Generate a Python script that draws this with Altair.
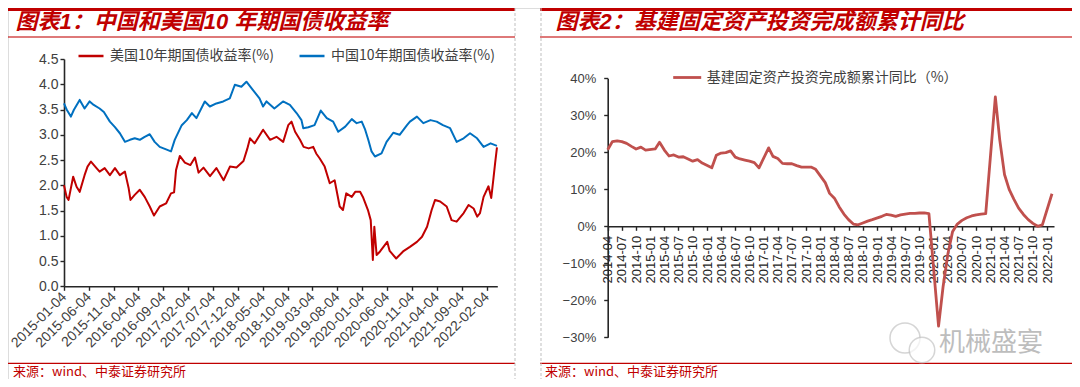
import altair as alt
import pandas as pd

# ---------------- data ----------------
US_NAME = "美国10年期国债收益率(%)"
CN_NAME = "中国10年期国债收益率(%)"
INFRA_NAME = "基建固定资产投资完成额累计同比（%）"

us_dates = ["2015-01-04", "2015-01-20", "2015-02-01", "2015-03-01", "2015-03-22", "2015-04-10",
            "2015-05-10", "2015-05-28", "2015-06-18", "2015-07-22", "2015-08-10", "2015-09-10",
            "2015-10-12", "2015-11-12", "2015-12-12", "2016-01-12", "2016-02-04", "2016-02-15",
            "2016-03-12", "2016-04-12", "2016-05-12", "2016-06-12", "2016-07-08", "2016-08-12",
            "2016-09-20", "2016-10-20", "2016-11-08", "2016-11-20", "2016-12-13", "2017-01-13",
            "2017-02-16", "2017-03-16", "2017-04-07", "2017-05-07", "2017-06-16", "2017-07-25",
            "2017-09-07", "2017-10-16", "2017-11-25", "2018-01-07", "2018-01-30", "2018-02-16",
            "2018-03-16", "2018-05-07", "2018-06-19", "2018-07-28", "2018-09-07", "2018-10-08",
            "2018-10-28", "2018-11-19", "2018-12-19", "2019-01-10", "2019-02-10", "2019-03-10",
            "2019-03-28", "2019-04-19", "2019-05-19", "2019-06-19", "2019-07-19", "2019-08-19",
            "2019-09-08", "2019-09-28", "2019-11-01", "2019-11-22", "2019-12-22", "2020-01-08",
            "2020-02-08", "2020-02-25", "2020-03-09", "2020-03-18", "2020-04-01", "2020-04-22",
            "2020-06-05", "2020-06-20", "2020-07-30", "2020-09-10", "2020-10-22", "2020-12-04",
            "2021-01-04", "2021-02-04", "2021-03-04", "2021-03-25", "2021-04-25", "2021-06-04",
            "2021-07-04", "2021-08-04", "2021-09-16", "2021-10-16", "2021-11-16", "2021-12-08",
            "2021-12-25", "2022-01-16", "2022-02-15", "2022-03-04", "2022-03-18", "2022-03-28",
            "2022-04-08"]
us_vals = [2.00, 1.77, 1.71, 2.17, 1.97, 1.87,
           2.20, 2.37, 2.47, 2.34, 2.27, 2.34,
           2.20, 2.34, 2.20, 2.27, 1.94, 1.71,
           1.81, 1.91, 1.77, 1.58, 1.40, 1.58,
           1.64, 1.84, 1.86, 2.30, 2.58, 2.45,
           2.40, 2.55, 2.25, 2.35, 2.18, 2.34,
           2.10, 2.37, 2.35, 2.48, 2.72, 2.93,
           2.83, 3.10, 2.90, 2.96, 2.86, 3.19,
           3.26, 3.06, 2.90, 2.76, 2.73, 2.76,
           2.63, 2.53, 2.37, 2.04, 2.10, 1.58,
           1.51, 1.84, 1.77, 1.87, 1.87, 1.77,
           1.51, 1.31, 0.52, 1.18, 0.62, 0.69,
           0.88, 0.70, 0.55, 0.69, 0.78, 0.88,
           0.98, 1.18, 1.51, 1.71, 1.68, 1.58,
           1.31, 1.28, 1.45, 1.61, 1.54, 1.38,
           1.45, 1.77, 1.98, 1.75, 2.15, 2.45,
           2.75]

cn_dates = ["2015-01-04", "2015-01-20", "2015-02-15", "2015-03-05", "2015-04-10", "2015-05-10",
            "2015-06-10", "2015-07-05", "2015-08-10", "2015-09-05", "2015-10-12", "2015-11-12",
            "2015-12-12", "2016-01-12", "2016-02-12", "2016-03-12", "2016-04-12", "2016-05-12",
            "2016-06-12", "2016-07-12", "2016-08-12", "2016-09-20", "2016-10-20", "2016-11-12",
            "2016-12-25", "2017-01-25", "2017-02-25", "2017-03-25", "2017-05-15", "2017-06-15",
            "2017-07-25", "2017-09-05", "2017-10-15", "2017-11-15", "2017-12-25", "2018-01-25",
            "2018-03-05", "2018-04-15", "2018-05-07", "2018-05-28", "2018-07-15", "2018-09-06",
            "2018-10-18", "2018-11-28", "2018-12-28", "2019-01-08", "2019-02-08", "2019-03-18",
            "2019-04-25", "2019-06-01", "2019-07-10", "2019-08-10", "2019-09-22", "2019-11-01",
            "2019-12-01", "2020-01-01", "2020-01-22", "2020-02-10", "2020-03-01", "2020-03-22",
            "2020-05-01", "2020-06-01", "2020-07-12", "2020-08-20", "2020-10-04", "2020-10-22",
            "2020-12-04", "2021-01-12", "2021-02-25", "2021-04-04", "2021-05-12", "2021-06-25",
            "2021-08-04", "2021-09-16", "2021-10-25", "2021-12-07", "2022-01-16", "2022-02-28",
            "2022-04-08"]
cn_vals = [3.62, 3.50, 3.36, 3.49, 3.69, 3.52,
           3.66, 3.59, 3.52, 3.45, 3.26, 3.15,
           3.03, 2.86, 2.90, 2.93, 2.90, 2.96,
           3.01, 2.86, 2.76, 2.71, 2.67, 2.90,
           3.19, 3.29, 3.43, 3.33, 3.66, 3.56,
           3.62, 3.66, 3.72, 3.99, 3.95, 4.05,
           3.89, 3.72, 3.56, 3.66, 3.52, 3.66,
           3.59, 3.43, 3.29, 3.13, 3.15, 3.19,
           3.48, 3.33, 3.26, 3.06, 3.16, 3.31,
           3.23, 3.26, 3.10, 2.90, 2.67, 2.57,
           2.63, 2.86, 3.04, 3.00, 3.19, 3.26,
           3.36, 3.23, 3.29, 3.26, 3.19, 3.13,
           2.86, 2.93, 3.03, 2.93, 2.76, 2.83,
           2.78]

left_ticks = ["2015-01-04", "2015-06-04", "2015-11-04", "2016-04-04", "2016-09-04", "2017-02-04",
              "2017-07-04", "2017-12-04", "2018-05-04", "2018-10-04", "2019-03-04", "2019-08-04",
              "2020-01-04", "2020-06-04", "2020-11-04", "2021-04-04", "2021-09-04", "2022-02-04"]
left_yticks = [0.0, 0.5, 1.0, 1.5, 2.0, 2.5, 3.0, 3.5, 4.0, 4.5]

infra_months = ["2014-04", "2014-05", "2014-06", "2014-07", "2014-08", "2014-09", "2014-10",
                "2014-11", "2014-12", "2015-02", "2015-03", "2015-04", "2015-05", "2015-06",
                "2015-07", "2015-08", "2015-09", "2015-10", "2015-11", "2015-12", "2016-02",
                "2016-03", "2016-04", "2016-05", "2016-06", "2016-07", "2016-08", "2016-09",
                "2016-10", "2016-11", "2016-12", "2017-02", "2017-03", "2017-04", "2017-05",
                "2017-06", "2017-07", "2017-08", "2017-09", "2017-10", "2017-11", "2017-12",
                "2018-02", "2018-03", "2018-04", "2018-05", "2018-06", "2018-07", "2018-08",
                "2018-09", "2018-10", "2018-11", "2018-12", "2019-02", "2019-03", "2019-04",
                "2019-05", "2019-06", "2019-07", "2019-08", "2019-09", "2019-10", "2019-11",
                "2019-12", "2020-02", "2020-03", "2020-04", "2020-05", "2020-06", "2020-07",
                "2020-08", "2020-09", "2020-10", "2020-11", "2020-12", "2021-02", "2021-03",
                "2021-04", "2021-05", "2021-06", "2021-07", "2021-08", "2021-09", "2021-10",
                "2021-11", "2021-12", "2022-02"]
infra_vals = [20.7, 22.9, 23.1, 22.9, 22.4, 21.6, 20.9,
              21.4, 20.6, 20.9, 22.7, 20.6, 19.0, 19.3,
              18.7, 18.8, 18.2, 17.6, 18.0, 17.1, 15.8,
              19.2, 19.8, 19.9, 20.4, 18.7, 18.2, 17.9,
              17.6, 17.2, 15.8, 21.2, 18.9, 18.3, 17.0,
              16.9, 16.9, 16.4, 16.0, 16.0, 16.0, 15.4,
              11.8, 8.9, 7.6, 5.3, 3.3, 1.8, 0.6,
              0.4, 0.9, 1.4, 1.8, 2.7, 3.2, 3.0,
              2.7, 3.1, 3.3, 3.5, 3.5, 3.6, 3.6,
              3.4, -27.0, -16.4, -7.5, -1.5, 0.6, 1.6,
              2.3, 2.8, 3.1, 3.3, 3.4, 35.0, 23.5,
              14.0, 10.0, 7.3, 4.9, 3.2, 1.8, 0.8,
              0.0, 0.4, 8.8]

right_ticks = ["2014-04", "2014-07", "2014-10", "2015-01", "2015-04", "2015-07", "2015-10",
               "2016-01", "2016-04", "2016-07", "2016-10", "2017-01", "2017-04", "2017-07",
               "2017-10", "2018-01", "2018-04", "2018-07", "2018-10", "2019-01", "2019-04",
               "2019-07", "2019-10", "2020-01", "2020-04", "2020-07", "2020-10", "2021-01",
               "2021-04", "2021-07", "2021-10", "2022-01"]
right_yticks = [-0.3, -0.2, -0.1, 0.0, 0.1, 0.2, 0.3, 0.4]

TITLE_L = "图表1：中国和美国10 年期国债收益率"
TITLE_R = "图表2：基建固定资产投资完成额累计同比"
SOURCE = "来源：wind、中泰证券研究所"
WATERMARK = "机械盛宴"

# ---------------- layout constants ----------------
W, H = 1064, 371
LATIN = "Liberation Sans, Arial, 'Noto Sans CJK SC', sans-serif"
CJK = "'Noto Sans CJK SC', sans-serif"
RED = "#C00000"
AXC = "#262626"
LBC = "#404040"

LX = [56, 489.3]
LY = [278.3, 51]
RX = [599.7, 1046]
RY = [329.3, 70.3]
R_ZERO_Y = RY[0] - (RY[0] - RY[1]) * 3 / 7


def dt(s):
    p = [int(v) for v in s.split("-")]
    if len(p) == 2:
        p.append(1)
    return alt.DateTime(year=p[0], month=p[1], date=p[2], utc=True)


left_df = pd.DataFrame({
    "date": us_dates + cn_dates,
    "value": us_vals + cn_vals,
    "series": [US_NAME] * len(us_dates) + [CN_NAME] * len(cn_dates),
})
right_df = pd.DataFrame({
    "date": [m + "-01" for m in infra_months],
    "value": [v / 100 for v in infra_vals],
    "series": [INFRA_NAME] * len(infra_months),
})

axis_common = dict(grid=False, title=None, domainColor=AXC, domainWidth=1.6, tickColor=AXC,
                   tickWidth=1.4, labelFont=LATIN, labelOverlap=False,
                   labelBound=False, labelFlush=False)

left = alt.Chart(left_df).mark_line(strokeWidth=2, strokeJoin="round").encode(
    x=alt.X("date:T",
            scale=alt.Scale(type="utc", domain=[dt("2015-01-04"), dt("2022-04-10")], range=LX, nice=False),
            axis=alt.Axis(orient="bottom", offset=LY[0] - H, values=[dt(t) for t in left_ticks],
                          labelExpr="utcFormat(datum.value, '%Y-%m-%d')", labelAngle=-45,
                          labelAlign="right", labelBaseline="middle", labelFontSize=14,
                          labelColor=LBC, tickSize=4, labelPadding=4, **axis_common)),
    y=alt.Y("value:Q",
            scale=alt.Scale(domain=[0, 4.5], range=LY, nice=False, zero=False),
            axis=alt.Axis(orient="left", offset=-LX[0], values=left_yticks, format=".1f",
                          labelFontSize=14, labelColor=LBC, tickSize=4, labelPadding=2,
                          **axis_common)),
    color=alt.Color("series:N",
                    scale=alt.Scale(domain=[US_NAME, CN_NAME], range=[RED, "#0070C0"]),
                    legend=alt.Legend(orient="none", legendX=69, legendY=34, direction="horizontal",
                                      title=None, symbolType="stroke", symbolSize=625,
                                      symbolStrokeWidth=2.5, labelFont=CJK, labelFontSize=14,
                                      labelColor=LBC, labelLimit=400, columnPadding=20,
                                      labelOffset=5, padding=0)),
)

right = alt.Chart(right_df).mark_line(strokeWidth=2.8, strokeJoin="round").encode(
    x=alt.X("date:T",
            scale=alt.Scale(type="utc", domain=[dt("2014-04-01"), dt("2022-02-14")], range=RX, nice=False),
            axis=alt.Axis(orient="bottom", offset=R_ZERO_Y - H, values=[dt(t) for t in right_ticks],
                          labelExpr="utcFormat(datum.value, '%Y-%m')", labelAngle=270,
                          labelAlign="right", labelBaseline="middle", labelFontSize=13,
                          labelColor="#262626", tickSize=4, labelPadding=5, **axis_common)),
    y=alt.Y("value:Q",
            scale=alt.Scale(domain=[-0.3, 0.4], range=RY, nice=False, zero=False),
            axis=alt.Axis(orient="left", offset=-RX[0], values=right_yticks, format=".0%",
                          labelFontSize=13, labelColor=LBC, tickSize=4, labelPadding=8,
                          **axis_common)),
    color=alt.Color("series:N",
                    scale=alt.Scale(domain=[INFRA_NAME], range=["#C0504D"]),
                    legend=alt.Legend(orient="none", legendX=663.7, legendY=54, direction="horizontal",
                                      title=None, symbolType="stroke", symbolSize=784,
                                      symbolStrokeWidth=2.8, labelFont=CJK, labelFontSize=14,
                                      labelColor=LBC, labelLimit=500, labelOffset=4, padding=0)),
)

one = alt.Data(values=[{}])


def hrule(x1, x2, y, color, width, opacity=1.0):
    return alt.Chart(one).mark_rule(color=color, strokeWidth=width, opacity=opacity).encode(
        x=alt.value(x1), x2=alt.value(x2), y=alt.value(y))


def vrule(x, y1, y2):
    return alt.Chart(one).mark_rule(color="#BFBFBF", strokeWidth=1, strokeDash=[3, 2]).encode(
        x=alt.value(x), y=alt.value(y1), y2=alt.value(y2))


def label(x, y, txt, size, color, font, weight="normal", style="normal", align="left"):
    return alt.Chart(one).mark_text(fontSize=size, color=color, font=font, fontWeight=weight,
                                    fontStyle=style, align=align, baseline="middle").encode(
        x=alt.value(x), y=alt.value(y), text=alt.value(txt))


decor = [
    hrule(0, 507, 1.5, RED, 3), hrule(532, W, 1.5, RED, 3),
    hrule(0, 507, 29, RED, 1.5, 0.7), hrule(532, W, 29, RED, 1.5, 0.7),
    hrule(0, 507, 355.3, RED, 1.2), hrule(532, W, 355.3, RED, 1.2),
    vrule(507, 0, H), vrule(533, 0, H),
    label(7.5, 14, TITLE_L, 22, RED, LATIN, "bold", "italic"),
    label(547.5, 14, TITLE_R, 22, RED, LATIN, "bold", "italic"),
    label(5, 364, SOURCE, 13, RED, CJK),
    label(532 + 5, 364, SOURCE, 13, RED, CJK),
    alt.Chart(one).mark_point(shape="circle", filled=True, fill="white", stroke="#C4C4C4",
                              strokeWidth=1.5, size=900).encode(x=alt.value(897), y=alt.value(330)),
    alt.Chart(one).mark_point(shape="circle", filled=True, fill="white", stroke="#C4C4C4",
                              strokeWidth=1.5, size=650).encode(x=alt.value(914), y=alt.value(342)),
    label(931, 335, WATERMARK, 26, "#BDBDBD", CJK),
]

chart = alt.layer(left, right, *decor).resolve_scale(
    x="independent", y="independent", color="independent"
).resolve_axis(x="independent", y="independent").resolve_legend(color="independent").properties(
    width=W, height=H, padding=0, autosize=alt.AutoSizeParams(type="none")
).configure_view(stroke=None).configure(background="white")

chart.save("out.html", embed_options={"renderer": "svg", "actions": False})
